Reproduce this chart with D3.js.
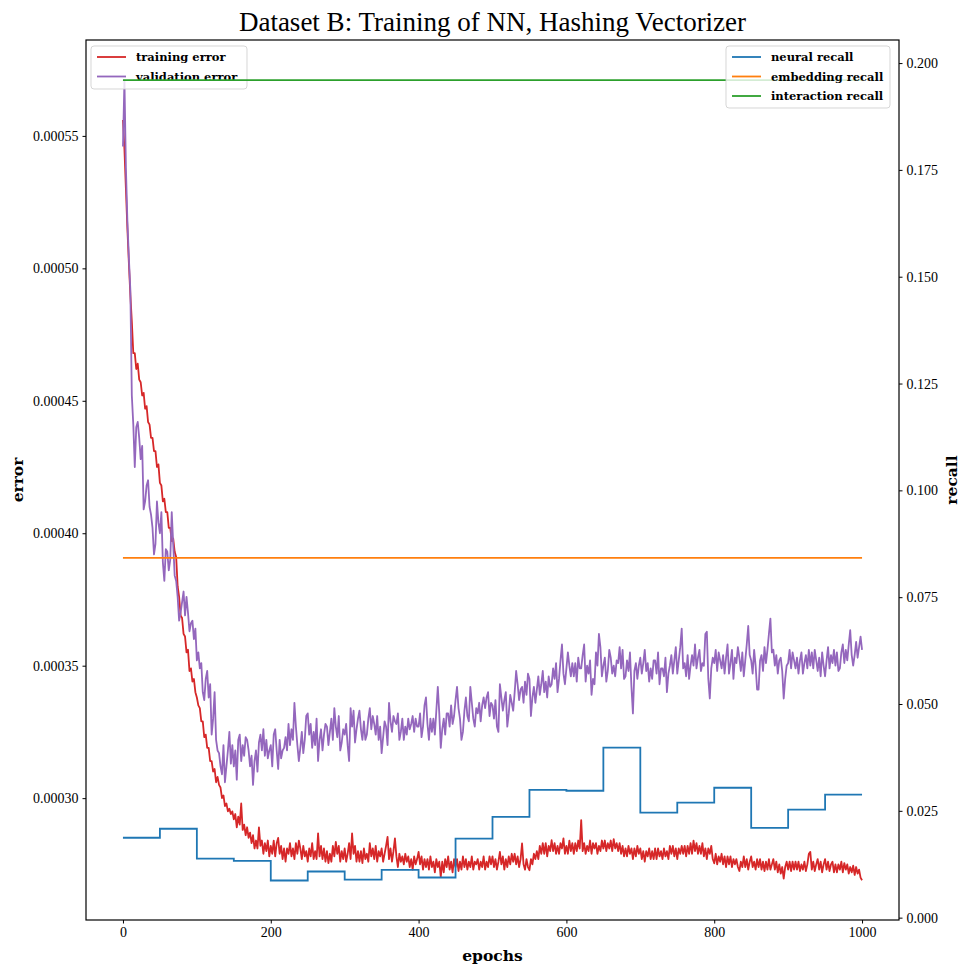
<!DOCTYPE html>
<html>
<head>
<meta charset="utf-8">
<script src="https://cdn.jsdelivr.net/npm/d3@7"></script>
<style>
  body { margin: 0; background: #fff; }
  svg { display: block; }
  text { fill: #000; }
</style>
</head>
<body>
<svg id="chart" width="961" height="969"></svg>
<script>
// ---- data -------------------------------------------------------------
const chartTitle = "Dataset B: Training of NN, Hashing Vectorizer";
const errorEpochStep = 2; // error values below are logged every 2 epochs, starting at epoch 0

// one row = 10 epochs (5 samples)
const trainingError = [
  0.000556, 0.000545, 0.000530, 0.000515, 0.000502,
  0.000490, 0.000480, 0.000468, 0.000468, 0.000462,
  0.000464, 0.000458, 0.000457, 0.000452, 0.000453,
  0.000447, 0.000448, 0.000442, 0.000441, 0.000436,
  0.000436, 0.000431, 0.000431, 0.000425, 0.000426,
  0.000419, 0.000418, 0.000412, 0.000413, 0.000408,
  0.000408, 0.000402, 0.000402, 0.000397, 0.000398,
  0.000393, 0.000391, 0.000380, 0.000376, 0.000369,
  0.000368, 0.000362, 0.000361, 0.000355, 0.000356,
  0.000348, 0.000349, 0.000344, 0.000345, 0.000340,
  0.000338, 0.000335, 0.000334, 0.000329, 0.000329,
  0.000323, 0.000324, 0.000319, 0.000319, 0.000314,
  0.000314, 0.000310, 0.000311, 0.000306, 0.000308,
  0.000305, 0.000304, 0.000300, 0.000301, 0.000297,
  0.000298, 0.000295, 0.000296, 0.000294, 0.000295,
  0.000292, 0.000294, 0.000289, 0.000293, 0.000290,
  0.000298, 0.000288, 0.000290, 0.000286, 0.000289,
  0.000285, 0.000287, 0.000283, 0.000286, 0.000281,
  0.000284, 0.000281, 0.000289, 0.000282, 0.000284,
  0.000279, 0.000283, 0.000280, 0.000284, 0.000278,
  0.000282, 0.000279, 0.000284, 0.000278, 0.000283,
  0.000285, 0.000279, 0.000282, 0.000277, 0.000281,
  0.000276, 0.000281, 0.000279, 0.000283, 0.000278,
  0.000281, 0.000277, 0.000283, 0.000279, 0.000284,
  0.000281, 0.000277, 0.000282, 0.000278, 0.000280,
  0.000276, 0.000281, 0.000278, 0.000283, 0.000277,
  0.000280, 0.000277, 0.0002867, 0.000278, 0.000282,
  0.000277, 0.000281, 0.000276, 0.000280, 0.0002755,
  0.000279, 0.000276, 0.000282, 0.000278, 0.0002835,
  0.000279, 0.000282, 0.000276, 0.000280, 0.000277,
  0.000281, 0.000276, 0.000279, 0.000283, 0.000277,
  0.0002867, 0.000279, 0.000282, 0.000276, 0.000280,
  0.000276, 0.000280, 0.0002755, 0.000281, 0.000277,
  0.000279, 0.000276, 0.000283, 0.000278, 0.000281,
  0.000277, 0.000282, 0.000276, 0.000280, 0.000278,
  0.000281, 0.000276, 0.000279, 0.000282, 0.0002854,
  0.000277, 0.000281, 0.000276, 0.000280, 0.0002848,
  0.000278, 0.000274, 0.000279, 0.000276, 0.000278,
  0.000275, 0.000279, 0.000276, 0.000278, 0.000274,
  0.000277, 0.000273, 0.000278, 0.000275, 0.000277,
  0.0002797, 0.000275, 0.000278, 0.000273, 0.000277,
  0.000274, 0.000277, 0.000273, 0.000278, 0.000274,
  0.000276, 0.000272, 0.000277, 0.000274, 0.000276,
  0.0002703, 0.000276, 0.000272, 0.000277, 0.000274,
  0.000278, 0.000273, 0.000276, 0.000272, 0.000277,
  0.000274, 0.000277, 0.0002725, 0.000276, 0.000273,
  0.000278, 0.000274, 0.000277, 0.000273, 0.000276,
  0.000274, 0.000278, 0.000273, 0.000276, 0.000275,
  0.000277, 0.000273, 0.000276, 0.000274, 0.000278,
  0.000273, 0.000276, 0.000274, 0.000278, 0.000275,
  0.000278, 0.000274, 0.000277, 0.000273, 0.000276,
  0.0002797, 0.000275, 0.000278, 0.000273, 0.000277,
  0.000274, 0.000278, 0.000275, 0.000279, 0.000276,
  0.000279, 0.000275, 0.000278, 0.000274, 0.000277,
  0.0002829, 0.000275, 0.000273, 0.000277, 0.000274,
  0.0002728, 0.000277, 0.000275, 0.000279, 0.000277,
  0.000280, 0.000277, 0.000282, 0.000279, 0.000283,
  0.000279, 0.000283, 0.000278, 0.000282, 0.000280,
  0.0002841, 0.000280, 0.000283, 0.000279, 0.000282,
  0.000279, 0.000283, 0.000281, 0.0002848, 0.000279,
  0.000282, 0.000279, 0.000284, 0.000280, 0.000283,
  0.000279, 0.000283, 0.000280, 0.000284, 0.000281,
  0.0002917, 0.000280, 0.000283, 0.000279, 0.000282,
  0.000280, 0.000284, 0.000279, 0.000283, 0.000281,
  0.000283, 0.000279, 0.000282, 0.000280, 0.000284,
  0.000281, 0.000284, 0.000280, 0.000283, 0.000281,
  0.000284, 0.000280, 0.0002845, 0.000281, 0.000283,
  0.000280, 0.000283, 0.000279, 0.000282, 0.000278,
  0.000281, 0.000278, 0.000282, 0.000279, 0.000281,
  0.000277, 0.000281, 0.000278, 0.000282, 0.000279,
  0.000281, 0.000277, 0.000280, 0.000276, 0.000280,
  0.000278, 0.000281, 0.000277, 0.000280, 0.000277,
  0.000281, 0.000277, 0.000281, 0.000278, 0.000280,
  0.000277, 0.000281, 0.000278, 0.000280, 0.000277,
  0.000282, 0.000279, 0.000282, 0.000278, 0.000281,
  0.000277, 0.000281, 0.000279, 0.000282, 0.000279,
  0.000282, 0.000278, 0.000282, 0.000279, 0.000283,
  0.000279, 0.000284, 0.000280, 0.000283, 0.000279,
  0.000282, 0.000279, 0.000283, 0.000278, 0.000281,
  0.000277, 0.000281, 0.000279, 0.000282, 0.000277,
  0.0002754, 0.000279, 0.000275, 0.000278, 0.000276,
  0.000279, 0.000275, 0.000278, 0.000274, 0.000278,
  0.000275, 0.000278, 0.000274, 0.000277, 0.000275,
  0.000277, 0.000274, 0.0002725, 0.000276, 0.000274,
  0.000278, 0.000274, 0.000277, 0.000273, 0.000276,
  0.000278, 0.000274, 0.000276, 0.000273, 0.000277,
  0.000274, 0.000277, 0.000273, 0.000276, 0.0002725,
  0.000276, 0.000273, 0.000277, 0.000273, 0.000275,
  0.000277, 0.000273, 0.000276, 0.000272, 0.000275,
  0.0002715, 0.000274, 0.0002696, 0.000274, 0.000276,
  0.000273, 0.000276, 0.0002725, 0.000276, 0.000273,
  0.000276, 0.000273, 0.000276, 0.0002725, 0.000275,
  0.000273, 0.000276, 0.0002725, 0.000275, 0.000279,
  0.0002797, 0.000273, 0.000276, 0.0002725, 0.000275,
  0.000277, 0.000273, 0.000276, 0.000272, 0.000275,
  0.000277, 0.000273, 0.000276, 0.0002725, 0.000275,
  0.000276, 0.000272, 0.000275, 0.000272, 0.000275,
  0.000273, 0.000276, 0.000272, 0.0002755, 0.000273,
  0.000275, 0.0002715, 0.000274, 0.000272, 0.0002745,
  0.000271, 0.000274, 0.0002715, 0.000273, 0.000270,
  0.000269
];

const validationError = [
  0.000546, 0.000571, 0.000538, 0.000518, 0.000504,
  0.000492, 0.000452, 0.000441, 0.000425, 0.000440,
  0.000442, 0.000436, 0.000428, 0.000433, 0.000409,
  0.000412, 0.000418, 0.000420, 0.000410, 0.000407,
  0.000402, 0.000392, 0.000396, 0.000412, 0.000404,
  0.000400, 0.000408, 0.000389, 0.000382, 0.000394,
  0.000393, 0.000386, 0.000390, 0.000408, 0.000396,
  0.000384, 0.000382, 0.000376, 0.000367, 0.000370,
  0.000374, 0.000378, 0.000369, 0.000376, 0.000370,
  0.000363, 0.000366, 0.000367, 0.000360, 0.000364,
  0.000352, 0.000355, 0.000349, 0.000351, 0.000340,
  0.000337, 0.000345, 0.000348, 0.000338, 0.000343,
  0.000324, 0.000330, 0.000340, 0.000322, 0.000318,
  0.000317, 0.000312, 0.000309, 0.000320, 0.000306,
  0.000312, 0.000318, 0.000325, 0.000313, 0.000320,
  0.000312, 0.000318, 0.000307, 0.000322, 0.000324,
  0.000314, 0.000320, 0.000316, 0.000323, 0.000322,
  0.000318, 0.000312, 0.000316, 0.000305, 0.000314,
  0.000318, 0.000310, 0.000321, 0.000324, 0.000318,
  0.000326, 0.000316, 0.000322, 0.000315, 0.000318,
  0.000320, 0.000312, 0.000324, 0.000326, 0.000318,
  0.000311, 0.000322, 0.000315, 0.000318, 0.000319,
  0.000323, 0.000318, 0.000328, 0.000320, 0.000326,
  0.000322, 0.000336, 0.000327, 0.000320, 0.000314,
  0.000319, 0.000325, 0.000317, 0.000322, 0.000331,
  0.000332, 0.000324, 0.000328, 0.000319, 0.000325,
  0.000320, 0.000330, 0.000314, 0.000322, 0.000326,
  0.000318, 0.000324, 0.000328, 0.000327, 0.000320,
  0.000325, 0.000330, 0.000322, 0.000334, 0.000327,
  0.000323, 0.000331, 0.000318, 0.000321, 0.000326,
  0.000324, 0.000328, 0.000320, 0.000314, 0.000334,
  0.000327, 0.000333, 0.000321, 0.000326, 0.000330,
  0.000333, 0.000326, 0.000322, 0.000329, 0.000322,
  0.000324, 0.000330, 0.000334, 0.000326, 0.000331,
  0.000328, 0.000324, 0.000331, 0.000322, 0.000327,
  0.000317, 0.000323, 0.000329, 0.000327, 0.000320,
  0.000336, 0.000329, 0.000325, 0.000331, 0.000329,
  0.000328, 0.000332, 0.000322, 0.000325, 0.000330,
  0.000322, 0.000327, 0.000324, 0.000330, 0.000326,
  0.000328, 0.000331, 0.000325, 0.000330, 0.000327,
  0.000327, 0.000332, 0.000323, 0.000327, 0.000335,
  0.000338, 0.000328, 0.000322, 0.000330, 0.000325,
  0.000330, 0.000324, 0.000333, 0.000342, 0.000332,
  0.000319, 0.000326, 0.000330, 0.000324, 0.000332,
  0.000332, 0.000327, 0.000335, 0.000328, 0.000331,
  0.000337, 0.000342, 0.000334, 0.000330, 0.000322,
  0.000325, 0.000333, 0.000338, 0.000331, 0.000329,
  0.000342, 0.000336, 0.000330, 0.000327, 0.000334,
  0.000332, 0.000336, 0.000329, 0.000335, 0.000338,
  0.000334, 0.000338, 0.000340, 0.000331, 0.000336,
  0.000335, 0.000330, 0.000337, 0.000327, 0.000325,
  0.000343, 0.000338, 0.000333, 0.000337, 0.000340,
  0.000327, 0.000332, 0.000339, 0.000336, 0.000333,
  0.000340, 0.000348, 0.000343, 0.000337, 0.000341,
  0.000342, 0.000336, 0.000344, 0.000339, 0.000347,
  0.000345, 0.000331, 0.000338, 0.000342, 0.000336,
  0.000341, 0.000346, 0.000339, 0.000343, 0.000348,
  0.000340, 0.000344, 0.000338, 0.000346, 0.000342,
  0.000343, 0.000349, 0.000345, 0.000351, 0.000340,
  0.000345, 0.000352, 0.000358, 0.000347, 0.000343,
  0.000349, 0.000355, 0.000350, 0.000346, 0.000351,
  0.000346, 0.000351, 0.000344, 0.000353, 0.000349,
  0.000349, 0.000354, 0.000358, 0.000344, 0.000350,
  0.000347, 0.000352, 0.000339, 0.000345, 0.000343,
  0.000355, 0.000350, 0.000362, 0.000357, 0.000346,
  0.000350, 0.000353, 0.000344, 0.000348, 0.000356,
  0.000353, 0.000347, 0.000350, 0.000346, 0.000352,
  0.000351, 0.000357, 0.000349, 0.000356, 0.000345,
  0.000346, 0.000352, 0.000348, 0.000355, 0.000342,
  0.000332, 0.000348, 0.000351, 0.000345, 0.000350,
  0.000353, 0.000347, 0.000351, 0.000356, 0.000348,
  0.000351, 0.000344, 0.000349, 0.000345, 0.000352,
  0.000352, 0.000347, 0.000355, 0.000343, 0.000349,
  0.000349, 0.000346, 0.000353, 0.000340, 0.000347,
  0.000350, 0.000354, 0.000347, 0.000352, 0.000357,
  0.000347, 0.000352, 0.000357, 0.000364, 0.000349,
  0.000351, 0.000346, 0.000354, 0.000345, 0.000350,
  0.000354, 0.000350, 0.000358, 0.000349, 0.000353,
  0.000356, 0.000348, 0.000351, 0.000350, 0.000362,
  0.0003628, 0.000345, 0.0003376, 0.000349, 0.000353,
  0.000351, 0.000356, 0.000348, 0.000355, 0.000352,
  0.000349, 0.000354, 0.000347, 0.000353, 0.000358,
  0.000347, 0.000351, 0.000356, 0.000345, 0.000353,
  0.000351, 0.000357, 0.000353, 0.000348, 0.000355,
  0.000346, 0.000352, 0.000358, 0.000365, 0.000354,
  0.000352, 0.000347, 0.000356, 0.000350, 0.000341,
  0.000341, 0.000352, 0.000354, 0.000348, 0.000357,
  0.000351, 0.000356, 0.000362, 0.0003678, 0.000355,
  0.000356, 0.000350, 0.000354, 0.000347, 0.000352,
  0.000353, 0.000348, 0.0003376, 0.000345, 0.000350,
  0.000351, 0.000356, 0.000349, 0.000355, 0.000352,
  0.000349, 0.000353, 0.000347, 0.000352, 0.000355,
  0.000347, 0.000351, 0.000354, 0.000349, 0.000356,
  0.000350, 0.000355, 0.000349, 0.000356, 0.000352,
  0.000348, 0.000353, 0.000346, 0.000355, 0.000350,
  0.000346, 0.000352, 0.000357, 0.000349, 0.000354,
  0.000351, 0.000356, 0.000350, 0.000355, 0.000348,
  0.000349, 0.000355, 0.000358, 0.000351, 0.000356,
  0.000352, 0.000358, 0.0003634, 0.000354, 0.000350,
  0.000354, 0.000359, 0.000353, 0.000357, 0.000361,
  0.000356
];

// recall is re-evaluated every 50 epochs and held until the next evaluation
const recallEpochs = [0, 50, 100, 150, 200, 250, 300, 350, 400, 450, 500,
                      550, 600, 650, 700, 750, 800, 850, 900, 950, 1000];
const neuralRecall = [0.0187, 0.0208, 0.0138, 0.0133, 0.0087, 0.0108, 0.0089, 0.0112, 0.0094, 0.0185, 0.0236,
                      0.0299, 0.0297, 0.0398, 0.0246, 0.0269, 0.0304, 0.0210, 0.0253, 0.0288, 0.0288];
const embeddingRecall = 0.0842;
const interactionRecall = 0.196;
const baselineEpochs = [0, 1000];

const epochTicks = [0, 200, 400, 600, 800, 1000];
const errorTicks = [0.00030, 0.00035, 0.00040, 0.00045, 0.00050, 0.00055];
const recallTicks = [0.000, 0.025, 0.050, 0.075, 0.100, 0.125, 0.150, 0.175, 0.200];

const errorSeries = [
  { label: "training error", values: trainingError, color: "#d62728" },
  { label: "validation error", values: validationError, color: "#9467bd" }
];
const recallSeries = [
  { label: "neural recall", epochs: recallEpochs, values: neuralRecall, color: "#1f77b4", step: true },
  { label: "embedding recall", epochs: baselineEpochs, values: [embeddingRecall, embeddingRecall], color: "#ff7f0e" },
  { label: "interaction recall", epochs: baselineEpochs, values: [interactionRecall, interactionRecall], color: "#2ca02c" }
];

// ---- layout ---------------------------------------------------------------
const serif = "'Liberation Serif', serif";
const boldSerif = "'DejaVu Serif', serif";
const lineWidth = 1.8;
const plot = { left: 86, right: 899, top: 40, bottom: 920 };
const svg = d3.select("#chart");

const x = d3.scaleLinear().domain([-50, 1050]).range([plot.left, plot.right]);
const yErr = d3.scaleLinear().domain([0.000254, 0.0005862]).range([plot.bottom, plot.top]);
const yRec = d3.scaleLinear().domain([-0.00055, 0.2054]).range([plot.bottom, plot.top]);

svg.append("defs").append("clipPath").attr("id", "plot-clip")
  .append("rect").attr("x", plot.left).attr("y", plot.top)
  .attr("width", plot.right - plot.left).attr("height", plot.bottom - plot.top);

// ---- error lines (primary axis) ---------------------------------------------
const errLayer = svg.append("g").attr("clip-path", "url(#plot-clip)");
const errLine = d3.line()
  .x((d, i) => x(i * errorEpochStep))
  .y(d => yErr(d));
errorSeries.forEach(s => {
  errLayer.append("path")
    .attr("d", errLine(s.values))
    .attr("fill", "none")
    .attr("stroke", s.color)
    .attr("stroke-width", lineWidth)
    .attr("stroke-linejoin", "round");
});

// semi-transparent legend box with line samples
function drawLegend(g, items, box) {
  g.append("rect")
    .attr("x", box.x).attr("y", box.y).attr("width", box.w).attr("height", box.h)
    .attr("rx", 3).attr("ry", 3)
    .attr("fill", "#fff").attr("fill-opacity", 0.8)
    .attr("stroke", "#cccccc").attr("stroke-opacity", 0.8).attr("stroke-width", 1);
  items.forEach((s, i) => {
    const cy = box.y + 11 + i * box.gap;
    g.append("line")
      .attr("x1", box.x + 6).attr("x2", box.x + 35)
      .attr("y1", cy).attr("y2", cy)
      .attr("stroke", s.color).attr("stroke-width", lineWidth);
    g.append("text")
      .attr("x", box.x + 45).attr("y", cy + 4)
      .attr("font-family", boldSerif)
      .attr("font-size", 11.5).attr("font-weight", "bold")
      .text(s.label);
  });
}
drawLegend(svg.append("g"), errorSeries, { x: 91, y: 46, w: 156, h: 43, gap: 19.5 });

// ---- recall lines (secondary axis, drawn on top) -----------------------------
const recLayer = svg.append("g").attr("clip-path", "url(#plot-clip)");
recallSeries.forEach(s => {
  const line = d3.line()
    .x((d, i) => x(s.epochs[i]))
    .y(d => yRec(d))
    .curve(s.step ? d3.curveStepAfter : d3.curveLinear);
  recLayer.append("path")
    .attr("d", line(s.values))
    .attr("fill", "none")
    .attr("stroke", s.color)
    .attr("stroke-width", lineWidth);
});
drawLegend(svg.append("g"), recallSeries, { x: 726, y: 46, w: 164, h: 62, gap: 19.5 });

// ---- frame and axes ----------------------------------------------------------
svg.append("rect")
  .attr("x", plot.left).attr("y", plot.top)
  .attr("width", plot.right - plot.left).attr("height", plot.bottom - plot.top)
  .attr("fill", "none").attr("stroke", "#000").attr("stroke-width", 1.2);

function styleAxis(g) {
  g.select(".domain").remove();
  g.selectAll(".tick line").attr("stroke", "#000").attr("stroke-width", 1);
  g.selectAll(".tick text")
    .attr("font-family", serif)
    .attr("font-size", 14).attr("fill", "#000");
}

svg.append("g")
  .attr("transform", `translate(0,${plot.bottom})`)
  .call(d3.axisBottom(x).tickValues(epochTicks).tickFormat(d3.format("d")).tickSize(3.5).tickPadding(3.5))
  .call(styleAxis);

svg.append("g")
  .attr("transform", `translate(${plot.left},0)`)
  .call(d3.axisLeft(yErr).tickValues(errorTicks).tickFormat(d3.format(".5f")).tickSize(3.5).tickPadding(4))
  .call(styleAxis);

svg.append("g")
  .attr("transform", `translate(${plot.right},0)`)
  .call(d3.axisRight(yRec).tickValues(recallTicks).tickFormat(d3.format(".3f")).tickSize(3.5).tickPadding(4))
  .call(styleAxis);

// ---- titles -----------------------------------------------------------------
svg.append("text")
  .attr("x", (plot.left + plot.right) / 2).attr("y", 31)
  .attr("text-anchor", "middle").attr("font-family", serif).attr("font-size", 27)
  .text(chartTitle);

svg.append("text")
  .attr("x", (plot.left + plot.right) / 2).attr("y", 961)
  .attr("text-anchor", "middle").attr("font-family", boldSerif)
  .attr("font-size", 15.5).attr("font-weight", "bold")
  .text("epochs");

svg.append("text")
  .attr("transform", `translate(23,${(plot.top + plot.bottom) / 2}) rotate(-90)`)
  .attr("text-anchor", "middle").attr("font-family", boldSerif)
  .attr("font-size", 15.5).attr("font-weight", "bold")
  .text("error");

svg.append("text")
  .attr("transform", `translate(957,${(plot.top + plot.bottom) / 2}) rotate(-90)`)
  .attr("text-anchor", "middle").attr("font-family", boldSerif)
  .attr("font-size", 15.5).attr("font-weight", "bold")
  .text("recall");
</script>
</body>
</html>
